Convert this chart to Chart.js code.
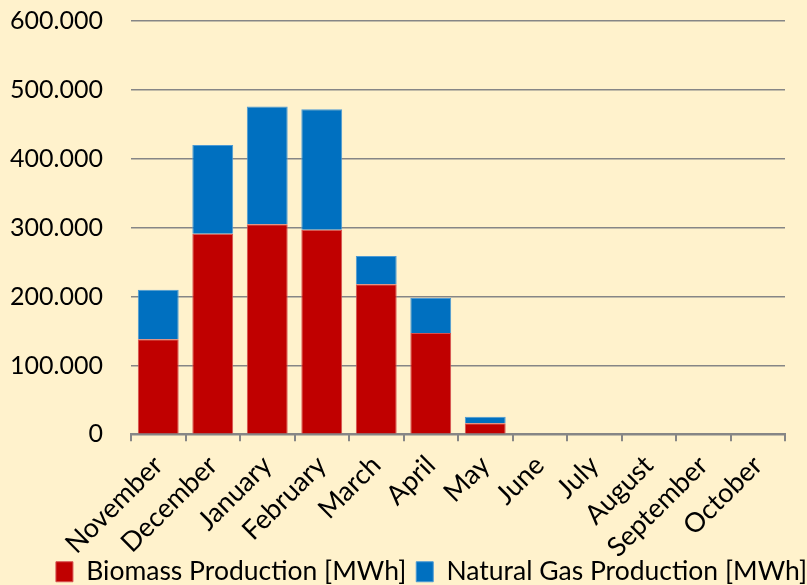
<!DOCTYPE html>
<html lang="en">
<head>
  <meta charset="UTF-8" />
  <title>Biomass vs Natural Gas Production</title>
  <script src="https://cdn.jsdelivr.net/npm/chart.js"></script>
  <style>
    html, body {
      margin: 0;
      padding: 0;
      background-color: #FFF2CC;
      overflow: hidden;
    }
    #wrap {
      width: 807px;
      height: 585px;
      position: relative;
    }
  </style>
</head>
<body>
  <div id="wrap"><canvas id="myChart"></canvas></div>

  <script>
    const months = ["November", "December", "January", "February", "March", "April", "May", "June", "July", "August", "September", "October"];
    const biomass = [138000, 291000, 305000, 297000, 218000, 147000, 16000, 0, 0, 0, 0, 0];
    const naturalGas = [72000, 129000, 171000, 175000, 41000, 51000, 9500, 0, 0, 0, 0, 0];
    const yTicks = [0, 100000, 200000, 300000, 400000, 500000, 600000];

    const grey = "#868686";
    const font = "Lato";

    // thousands separated by a dot, like the original
    function fmt(v) {
      return v.toString().replace(/\B(?=(\d{3})+(?!\d))/g, ".");
    }

    // the legend in the original sits off-centre, a bit right and low
    const legendShift = {
      id: "legendShift",
      afterLayout: (chart) => {
        const lg = chart.legend;
        lg.left += 34;
        lg.right += 34;
        lg.top -= 14;
        lg.bottom -= 14;
      }
    };

    const ctx = document.getElementById("myChart").getContext("2d");

    new Chart(ctx, {
      type: "bar",
      data: {
        labels: months,
        datasets: [
          {
            label: "Biomass Production [MWh]",
            data: biomass,
            backgroundColor: "#C00000",
            borderColor: "#D65050",
            borderWidth: 1,
            barPercentage: 0.75,
            categoryPercentage: 1
          },
          {
            label: "Natural Gas Production [MWh]",
            data: naturalGas,
            backgroundColor: "#0070C0",
            borderColor: "#4C9AD4",
            borderWidth: 1,
            barPercentage: 0.75,
            categoryPercentage: 1
          }
        ]
      },
      options: {
        responsive: true,
        maintainAspectRatio: false,
        animation: false,
        layout: {
          padding: { top: 21, right: 22, left: 10, bottom: -24 }
        },
        plugins: {
          legend: {
            position: "bottom",
            labels: {
              color: "#000",
              font: { family: font, size: 26.5 },
              boxWidth: 17,
              boxHeight: 20,
              padding: 10
            }
          },
          tooltip: { enabled: false }
        },
        scales: {
          x: {
            stacked: true,
            afterFit: (axis) => {
              // rotated labels may overflow to the left, like in the original
              axis.paddingLeft = 0;
              axis.paddingRight = 0;
              axis.height -= 9;
            },
            grid: {
              offset: true,
              drawOnChartArea: false,
              drawTicks: true,
              tickLength: 7,
              color: grey,
              lineWidth: 2
            },
            border: { display: true, color: grey, width: 2 },
            ticks: {
              color: "#000",
              font: { family: font, size: 27 },
              minRotation: 45,
              maxRotation: 45,
              padding: 8
            }
          },
          y: {
            stacked: true,
            min: 0,
            max: 600000,
            afterBuildTicks: (axis) => {
              axis.ticks = yTicks.map(v => ({ value: v }));
            },
            afterFit: (axis) => {
              axis.paddingTop = 0;
              axis.paddingBottom = 0;
              axis.width = 121;
            },
            grid: {
              color: grey,
              lineWidth: 1.5,
              drawTicks: false
            },
            border: { display: false },
            ticks: {
              color: "#000",
              font: { family: font, size: 25 },
              padding: 28,
              callback: (v) => fmt(v)
            }
          }
        }
      },
      plugins: [legendShift]
    });
  </script>
</body>
</html>
